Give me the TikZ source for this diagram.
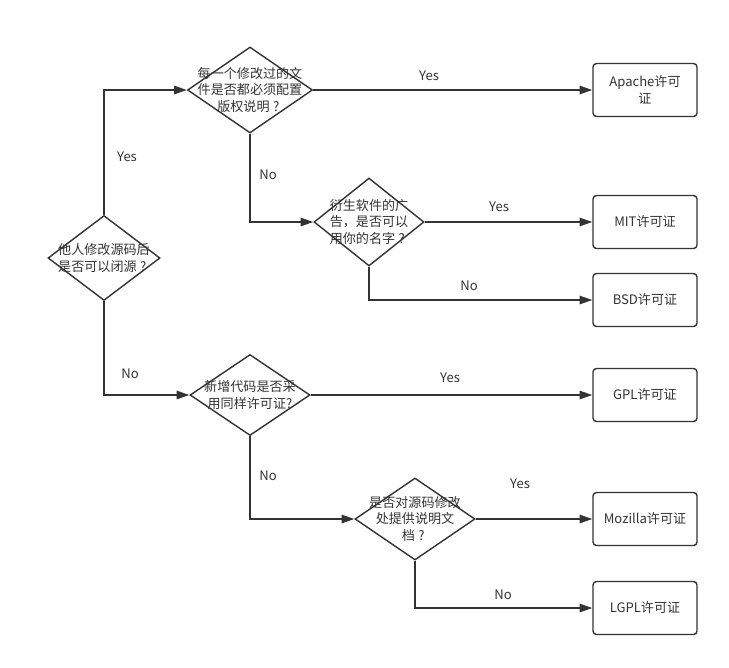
\documentclass[tikz,border=0pt]{standalone}
\usepackage{fontspec}
\setmainfont{Noto Sans CJK SC}
\usetikzlibrary{shapes.geometric,arrows.meta}
\definecolor{ink}{HTML}{333333}
\newcommand{\qmark}{\makebox[1em]{?}}

\begin{document}
\begin{tikzpicture}[x=0.025cm,y=-0.025cm,
  every node/.style={text=ink,font=\fontsize{9.3}{12}\selectfont},
  decide/.style={diamond,draw=ink,line width=1pt,inner sep=0pt},
  txt/.style={align=center,inner sep=0pt},
  licence/.style={draw=ink,line width=1pt,rounded corners=2.5pt,align=center,
    minimum width=2.6cm,minimum height=1.325cm,inner sep=0pt},
  flow/.style={draw=ink,line width=1pt,-{Triangle[length=9pt,width=6pt]}}]
\useasboundingbox (0,0) rectangle (729,667);
\node[decide,minimum width=2.8cm,minimum height=2.125cm] (d0) at (104,258) {};
\node[decide,minimum width=3.125cm,minimum height=2.15cm] (d1) at (250,90) {};
\node[decide,minimum width=2.75cm,minimum height=2.2cm] (d2) at (369,222) {};
\node[decide,minimum width=3cm,minimum height=2.025cm] (d3) at (250,395) {};
\node[decide,minimum width=3cm,minimum height=2.05cm] (d4) at (415,519) {};
\node[txt] (t0) at (d0) {他人修改源码后\\是否可以闭源\qmark};
\node[txt] (t1) at (d1) {每一个修改过的文\\件是否都必须配置\\版权说明\qmark};
\node[txt] (t2) at (d2) {衍生软件的广\\告，是否可以\\用你的名字\qmark};
\node[txt] (t3) at (d3) {新增代码是否采\\用同样许可证?};
\node[txt] (t4) at (d4) {是否对源码修改\\处提供说明文\\档\qmark};
\node[licence] (apache) at (645,90) {Apache许可\\证};
\node[licence] (mit) at (645,222) {MIT许可证};
\node[licence] (bsd) at (645,300) {BSD许可证};
\node[licence] (gpl) at (645,395) {GPL许可证};
\node[licence] (mozilla) at (645,519) {Mozilla许可证};
\node[licence] (lgpl) at (645,608) {LGPL许可证};
\draw[flow] (d0.north) |- (d1.west);
\draw[flow] (d0.south) |- (d3.west);
\draw[flow] (d1.east) -- (apache.west);
\draw[flow] (d1.south) |- (d2.west);
\draw[flow] (d2.east) -- (mit.west);
\draw[flow] (d2.south) |- (bsd.west);
\draw[flow] (d3.east) -- (gpl.west);
\draw[flow] (d3.south) |- (d4.west);
\draw[flow] (d4.east) -- (mozilla.west);
\draw[flow] (d4.south) |- (lgpl.west);
\node (l1) at (127,157) {Yes};
\node (l2) at (130,374) {No};
\node (l3) at (429,76) {Yes};
\node (l4) at (268,175) {No};
\node (l5) at (499,207) {Yes};
\node (l6) at (469,286) {No};
\node (l7) at (450,378) {Yes};
\node (l8) at (268,476) {No};
\node (l9) at (520,484) {Yes};
\node (l10) at (503,595) {No};
\end{tikzpicture}
\end{document}
